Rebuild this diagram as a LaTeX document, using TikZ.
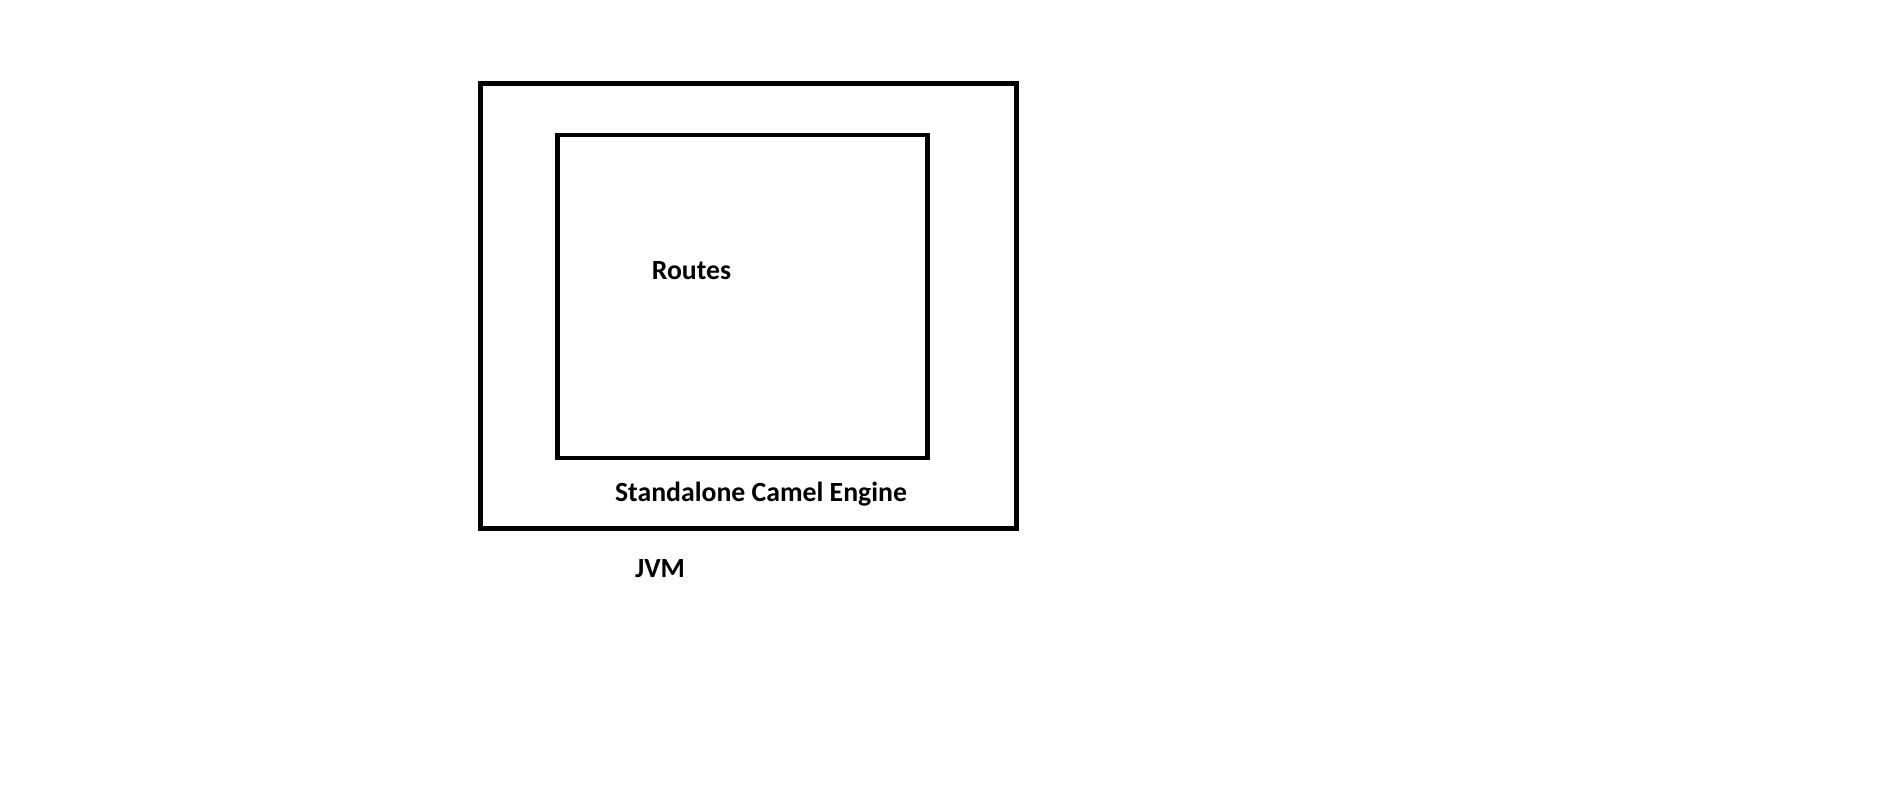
\documentclass[tikz,border=0pt]{standalone}
\usepackage{fontspec}
\setmainfont{Carlito}
\begin{document}
\begin{tikzpicture}[
      font=\fontsize{15.8}{18}\selectfont\bfseries,
      box/.style={draw, line width=2.75pt, inner sep=0},
      lbl/.style={anchor=base, inner sep=0}
    ]
      \useasboundingbox (0,0) rectangle (37.8,15.7);

      \node (JVMBox) at (14.97,9.58) [box, minimum width=10.72cm, minimum height=8.9cm] {};
      \node (EngineBox) at (14.85,9.77) [box, minimum width=7.4cm, minimum height=6.46cm] {};

      \node (Routes) at (13.83,10.11) [lbl] {Routes};
      \node (Engine) at (15.22,5.67) [lbl] {Standalone Camel Engine};
      \node (JVM) at (13.2,4.15) [lbl] {JVM};
    \end{tikzpicture}
\end{document}
